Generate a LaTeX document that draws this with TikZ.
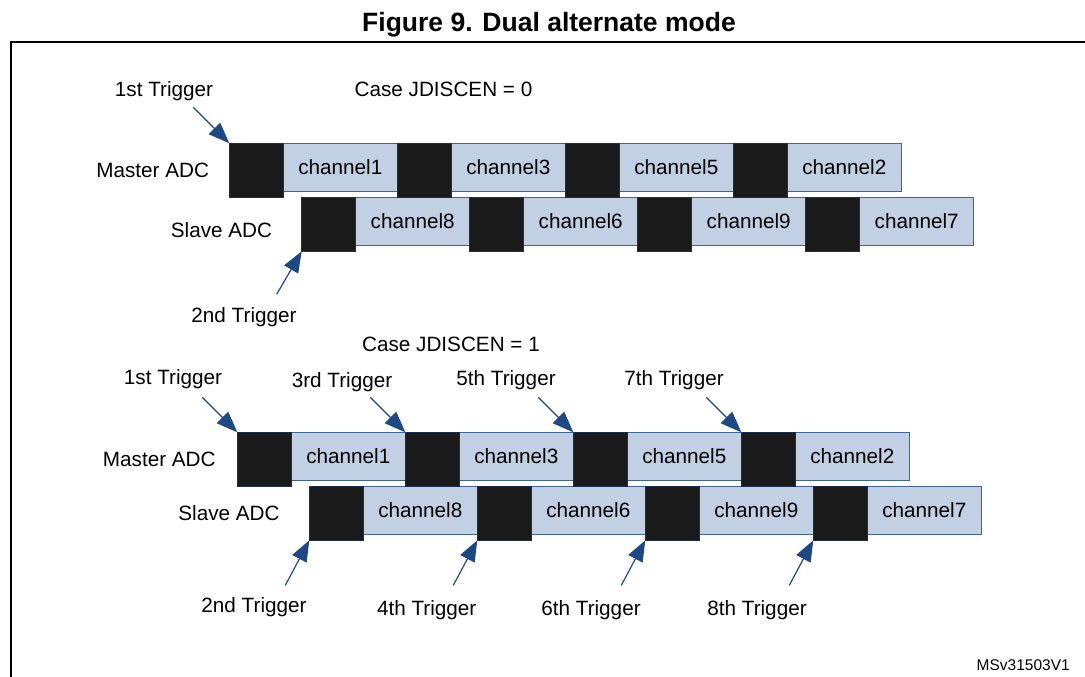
\documentclass[tikz,border=0pt]{standalone}
\usepackage{fontspec}
\setmainfont{Liberation Sans}
\usetikzlibrary{arrows.meta,calc}

\definecolor{chanfill}{RGB}{193,208,227}
\definecolor{chanline}{RGB}{62,100,150}
\definecolor{blkfill}{RGB}{26,26,26}
\definecolor{blkline}{RGB}{28,45,78}
\definecolor{trigblue}{RGB}{28,72,132}

\begin{document}
\begin{tikzpicture}[x=1pt,y=-1pt,
  lbl/.style={anchor=base, inner sep=0, font=\fontsize{20.7}{24}\selectfont},
  chan/.style={draw=chanline, line width=1.3pt, fill=chanfill, anchor=north west,
    minimum width=114, minimum height=48, inner sep=0, outer sep=0,
    font=\fontsize{20.7}{24}\selectfont},
  blk/.style={draw=blkline, line width=1.3pt, fill=blkfill, anchor=north west,
    minimum width=54, minimum height=54, inner sep=0, outer sep=0},
  trig/.style={draw=trigblue, line width=1.2pt, -{Triangle[length=21pt,width=16pt]}}]

  \useasboundingbox (0,0) rectangle (1085,677);

  % Title and frame
  \node[anchor=base, inner sep=0, font=\bfseries\fontsize{26.5}{30}\selectfont] (title) at (549,32) {Figure 9. Dual alternate mode};
  \draw[line width=2pt] (11,677) -- (11,41.7) -- (1085,41.7);

  % Case JDISCEN = 0
  \node[lbl] (case0) at (443.5,96) {Case JDISCEN = 0};
  \node[lbl] (mst0) at (152.7,177) {Master ADC};
  \node[lbl] (slv0) at (221.5,237.3) {Slave ADC};

  \foreach \ch [count=\i from 0] in {1,3,5,2}
    \node[chan] (m0c\i) at ({283.3+168*\i},143.3) {channel\ch};
  \foreach \ch [count=\i from 0] in {8,6,9,7}
    \node[chan] (s0c\i) at ({355.7+168*\i},197.3) {channel\ch};
  \foreach \i in {0,...,3}{
    \node[blk] (m0b\i) at ({229.3+168*\i},143.3) {};
    \node[blk] (s0b\i) at ({301.7+168*\i},197.3) {};
  }

  \node[lbl] (tr01) at (164,96) {1st Trigger};
  \node[lbl] (tr02) at (244,322.8) {2nd Trigger};
  \draw[trig] ($(m0b0.north west)+(-36,-36)$) -- (m0b0.north west);
  \draw[trig] ($(s0b0.south west)+(-25,43)$) -- (s0b0.south west);

  % Case JDISCEN = 1
  \node[lbl] (case1) at (451,351.7) {Case JDISCEN = 1};
  \node[lbl] (mst1) at (159.3,466) {Master ADC};
  \node[lbl] (slv1) at (229,520) {Slave ADC};

  \foreach \ch [count=\i from 0] in {1,3,5,2}
    \node[chan] (m1c\i) at ({291.3+168*\i},432.3) {channel\ch};
  \foreach \ch [count=\i from 0] in {8,6,9,7}
    \node[chan] (s1c\i) at ({363.3+168*\i},486.3) {channel\ch};
  \foreach \i in {0,...,3}{
    \node[blk] (m1b\i) at ({237.3+168*\i},432.3) {};
    \node[blk] (s1b\i) at ({309.3+168*\i},486.3) {};
  }

  % odd triggers hit the master, even ones the slave
  \foreach \nm/\px/\py [count=\i from 0] in {1st/173/384, 3rd/342/387.3, 5th/506/385, 7th/674/385}{
    \node[lbl] (tm\i) at (\px,\py) {\nm\ Trigger};
    \draw[trig] ($(m1b\i.north west)+(-35,-35)$) -- (m1b\i.north west);
  }
  \foreach \nm/\px/\py [count=\i from 0] in {2nd/254/612.3, 4th/426.7/615.7, 6th/591/615.7, 8th/757/615.7}{
    \node[lbl] (ts\i) at (\px,\py) {\nm\ Trigger};
    \draw[trig] ($(s1b\i.south west)+(-24,45)$) -- (s1b\i.south west);
  }

  \node[anchor=base east, inner sep=0, font=\fontsize{15.5}{18}\selectfont] (ref) at (1070,670) {MSv31503V1};
\end{tikzpicture}
\end{document}
